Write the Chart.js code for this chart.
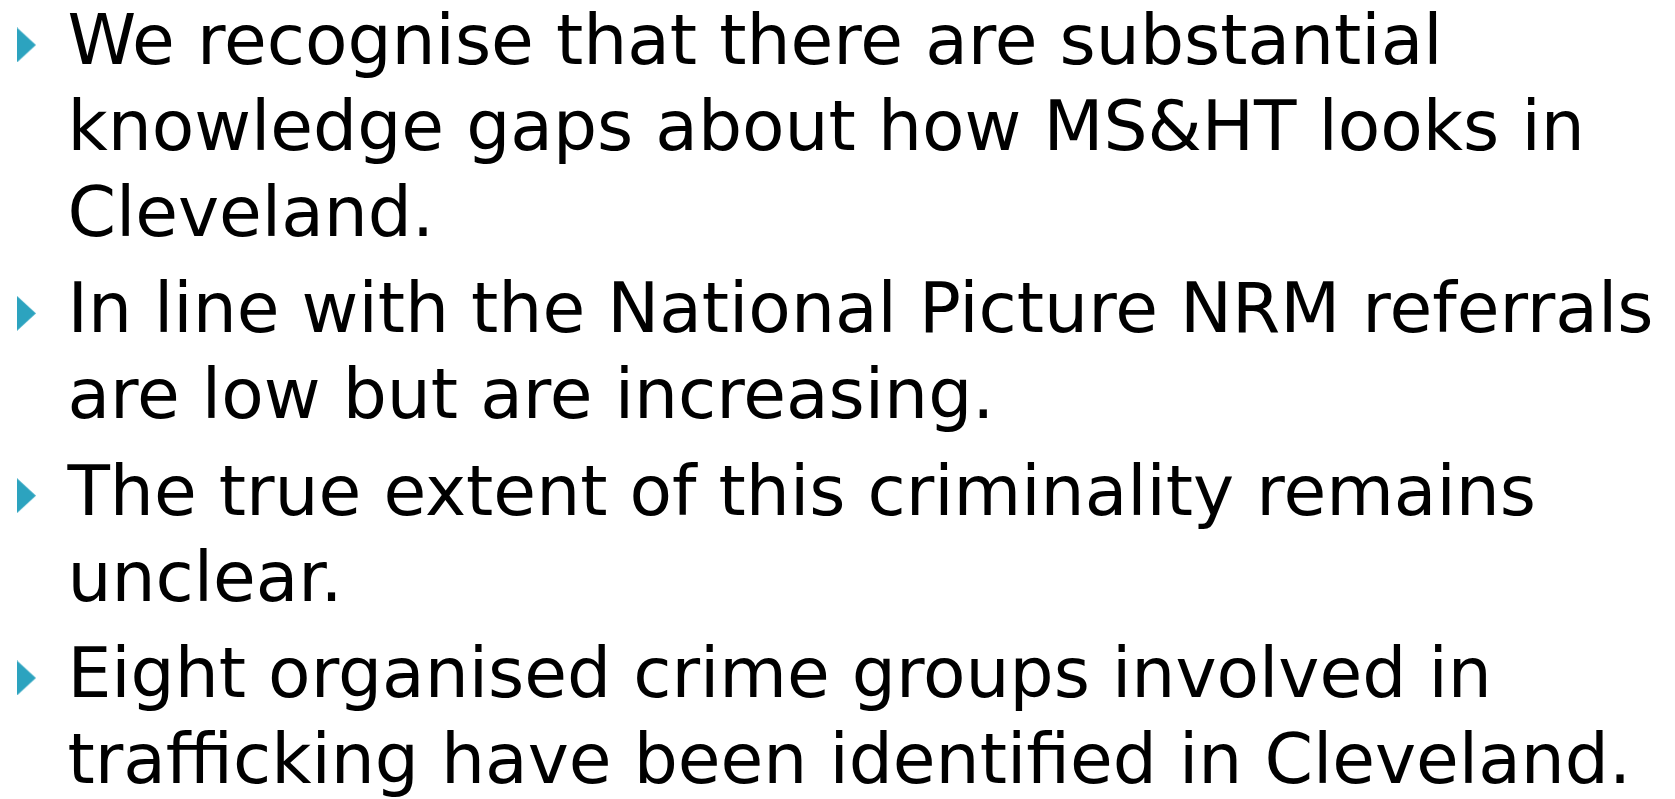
<!DOCTYPE html>
<html>
<head>
<meta charset="utf-8">
<script src="https://cdn.jsdelivr.net/npm/chart.js@4.4.1/dist/chart.umd.min.js"></script>
<style>
html, body { margin: 0; padding: 0; background: #fff; overflow: hidden; }
#wrap { width: 1675px; height: 799px; position: relative; }
</style>
</head>
<body>
<div id="wrap"><canvas id="slide"></canvas></div>
<script>
// bullet text, one array of wrapped lines per bullet
const bullet1 = ['We recognise that there are substantial', 'knowledge gaps about how MS&HT looks in', 'Cleveland.'];
const bullet2 = ['In line with the National Picture NRM referrals', 'are low but are increasing.'];
const bullet3 = ['The true extent of this criminality remains', 'unclear.'];
const bullet4 = ['Eight organised crime groups involved in', 'trafficking have been identified in Cleveland.'];
const bullets = [bullet1, bullet2, bullet3, bullet4];

const paraGap = 0.12;   // extra space between bullets, in line units
const textFont = '69.5px "DejaVu Sans"';
const bulletColor = '#2ca3bf';

// one row per text line: y = line number plus paragraph gaps
const rows = [];
const markers = [];
let lineNo = 0;
bullets.forEach((lines, b) => {
  lines.forEach((txt, i) => {
    const y = lineNo + b * paraGap;
    rows.push({ x: 1, y: y, text: txt });
    if (i === 0) markers.push({ x: 0, y: y });
    lineNo++;
  });
});

// narrow right-pointing triangle for the bullet glyph
const tri = document.createElement('canvas');
tri.width = 19; tri.height = 35;
const tctx = tri.getContext('2d');
tctx.fillStyle = bulletColor;
tctx.beginPath();
tctx.moveTo(0, 0);
tctx.lineTo(19, 17.5);
tctx.lineTo(0, 35);
tctx.closePath();
tctx.fill();

const textLines = {
  id: 'textLines',
  afterDatasetsDraw(chart) {
    const c = chart.ctx;
    const xs = chart.scales.x, ys = chart.scales.y;
    c.save();
    c.font = textFont;
    c.fillStyle = '#000';
    c.textAlign = 'left';
    c.textBaseline = 'alphabetic';
    rows.forEach(r => {
      // scale value is the bullet centre; baseline sits ~19px lower
      c.fillText(r.text, xs.getPixelForValue(r.x), ys.getPixelForValue(r.y) + 19);
    });
    c.restore();
  }
};

const ctx = document.getElementById('slide').getContext('2d');
const myChart = new Chart(ctx, {
  type: 'scatter',
  data: {
    datasets: [{
      label: 'bullets',
      data: markers,
      pointStyle: tri,
      pointRadius: 18,
      pointHoverRadius: 18
    }]
  },
  options: {
    responsive: true,
    maintainAspectRatio: false,
    animation: false,
    events: [],
    layout: { padding: 0, autoPadding: false },
    plugins: {
      legend: { display: false },
      tooltip: { enabled: false }
    },
    scales: {
      x: { type: 'linear', display: false, min: -0.643, max: 40.2 },
      y: { type: 'linear', display: false, reverse: true, min: -0.523, max: 8.767 }
    }
  },
  plugins: [textLines]
});
</script>
</body>
</html>
